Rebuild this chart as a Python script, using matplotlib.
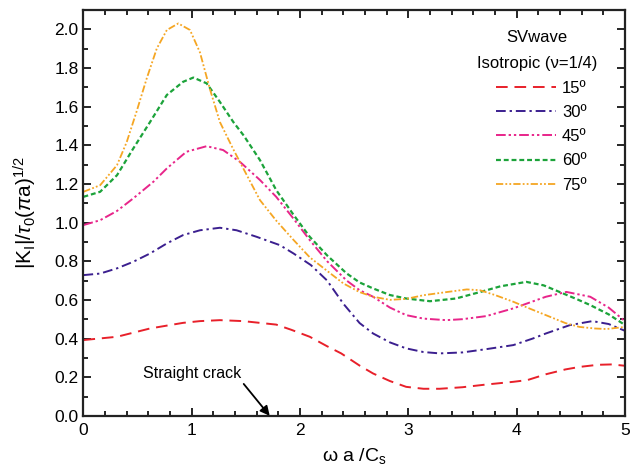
import numpy as np
import matplotlib
matplotlib.use('Agg')
from matplotlib import pyplot as plt
from matplotlib.ticker import MultipleLocator

plt.rcParams['font.family'] = ['Liberation Sans', 'DejaVu Sans']
plt.rcParams['mathtext.fontset'] = 'custom'
plt.rcParams['mathtext.rm'] = 'Liberation Sans'
plt.rcParams['mathtext.it'] = 'Liberation Sans:italic'

# values
x15 = [0.0, 0.31, 0.615, 0.92, 1.076, 1.26, 1.476, 1.78, 1.92, 2.09, 2.25, 2.38, 2.55, 2.675, 2.83, 2.98, 3.14,
       3.29, 3.5, 3.72, 3.97, 4.1, 4.27, 4.45, 4.58, 4.75, 4.88, 5.0]
y15 = [0.392, 0.409, 0.452, 0.481, 0.49, 0.495, 0.49, 0.472, 0.445, 0.409, 0.36, 0.323, 0.26, 0.219, 0.18, 0.15, 0.14,
       0.14, 0.148, 0.162, 0.176, 0.185, 0.215, 0.24, 0.253, 0.264, 0.266, 0.259]

x30 = [0.0, 0.154, 0.31, 0.46, 0.615, 0.77, 0.92, 1.076, 1.26, 1.414, 1.6, 1.814, 1.94, 2.1, 2.25, 2.4, 2.55,
       2.675, 2.83, 2.98, 3.14, 3.29, 3.5, 3.72, 3.97, 4.15, 4.27, 4.49, 4.7, 4.85, 5.0]
y30 = [0.728, 0.736, 0.763, 0.797, 0.84, 0.892, 0.935, 0.96, 0.973, 0.96, 0.926, 0.883, 0.84, 0.78, 0.7, 0.58, 0.48,
       0.426, 0.38, 0.349, 0.33, 0.323, 0.328, 0.345, 0.366, 0.4, 0.426, 0.469, 0.49, 0.475, 0.44]

x45 = [0.0, 0.154, 0.31, 0.46, 0.646, 0.77, 0.95, 1.138, 1.29, 1.445, 1.63, 1.78, 1.94, 2.09, 2.25, 2.43, 2.55,
       2.675, 2.83, 2.98, 3.14, 3.35, 3.5, 3.72, 3.97, 4.27, 4.46, 4.68, 4.85, 5.0]
y45 = [0.987, 1.012, 1.06, 1.125, 1.211, 1.28, 1.366, 1.395, 1.375, 1.314, 1.22, 1.133, 1.02, 0.909, 0.8, 0.7, 0.65,
       0.616, 0.56, 0.521, 0.503, 0.495, 0.5, 0.516, 0.556, 0.616, 0.641, 0.616, 0.56, 0.49]

x60 = [0.0, 0.154, 0.31, 0.46, 0.615, 0.77, 0.92, 1.015, 1.138, 1.26, 1.384, 1.48, 1.63, 1.78, 1.94, 2.09, 2.25,
       2.43, 2.55, 2.675, 2.83, 2.98, 3.2, 3.44, 3.66, 3.85, 4.09, 4.25, 4.4, 4.55, 4.68, 4.85, 5.0]
y60 = [1.133, 1.159, 1.245, 1.383, 1.52, 1.66, 1.728, 1.75, 1.72, 1.624, 1.52, 1.45, 1.323, 1.168, 1.04, 0.926, 0.83,
       0.737, 0.69, 0.659, 0.625, 0.607, 0.593, 0.607, 0.64, 0.67, 0.693, 0.675, 0.64, 0.605, 0.573, 0.525, 0.47]

x75 = [0.0, 0.154, 0.31, 0.4, 0.49, 0.584, 0.677, 0.77, 0.876, 0.984, 1.076, 1.168, 1.26, 1.38, 1.476, 1.63, 1.78,
       1.94, 2.09, 2.25, 2.4, 2.55, 2.675, 2.83, 2.98, 3.14, 3.35, 3.54, 3.66, 3.8, 3.97, 4.12, 4.27, 4.45, 4.58,
       4.72, 4.83, 5.0]
y75 = [1.159, 1.193, 1.297, 1.417, 1.573, 1.745, 1.9, 1.996, 2.03, 1.996, 1.88, 1.69, 1.52, 1.383, 1.28, 1.116, 1.01,
       0.91, 0.82, 0.75, 0.685, 0.64, 0.616, 0.6, 0.605, 0.624, 0.64, 0.654, 0.65, 0.625, 0.59, 0.555, 0.521, 0.48, 0.46,
       0.452, 0.449, 0.46]

labels = ['15º', '30º', '45º', '60º', '75º']

fig = plt.figure(figsize=(6.37, 4.72), dpi=100)
ax = fig.add_axes([0.131, 0.119, 0.850, 0.860])

ax.plot(x15, y15, color='#e8202a', lw=1.4, dashes=(6, 3.5), label=labels[0])
ax.plot(x30, y30, color='#3b1f8f', lw=1.4, dashes=(5, 2, 1.2, 2), label=labels[1])
ax.plot(x45, y45, color='#e8258a', lw=1.4, dashes=(5, 1.5, 1.2, 1.5, 1.2, 1.5), label=labels[2])
ax.plot(x60, y60, color='#1ca33a', lw=1.6, dashes=(2.2, 1.3), label=labels[3])
ax.plot(x75, y75, color='#f5a623', lw=1.3, dashes=(4, 1.2, 1, 1.2, 1, 1.2), label=labels[4])

ax.set_xlim(0, 5)
ax.set_ylim(0, 2.1)
ax.xaxis.set_major_locator(MultipleLocator(1))
ax.xaxis.set_minor_locator(MultipleLocator(0.2))
ax.yaxis.set_minor_locator(MultipleLocator(0.1))
ax.set_yticks(np.arange(0, 2.01, 0.2))
ax.set_yticklabels([f'{v:.1f}' for v in np.arange(0, 2.01, 0.2)])
ax.tick_params(which='both', direction='in', top=True, right=True, labelsize=12.5, width=1.2)
ax.tick_params(which='major', length=6)
ax.tick_params(which='minor', length=3.5)
ax.tick_params(axis='x', pad=5)
for s in ax.spines.values():
    s.set_linewidth(1.6)
    s.set_color('#222222')

ax.set_xlabel('ω a /C$_{\\rm s}$', fontsize=14, labelpad=6)
ax.set_ylabel('|K$_{\\rm I}$|/$\\tau_0$($\\pi$a)$^{1/2}$', fontsize=15)
ax.yaxis.set_label_coords(-0.083, 0.5)

ax.text(1.0, 0.22, 'Straight crack', fontsize=11.5, ha='center', va='center')
ax.annotate('', xy=(1.72, 0.0), xytext=(1.48, 0.165),
            arrowprops=dict(arrowstyle='-|>', color='black', lw=1.3, mutation_scale=14,
                            shrinkA=0, shrinkB=0))

ax.text(0.838, 0.931, 'SVwave', transform=ax.transAxes, fontsize=12, ha='center', va='center')
ax.text(0.838, 0.869, 'Isotropic (ν=1/4)', transform=ax.transAxes, fontsize=12, ha='center', va='center')
ax.legend(loc='upper left', frameon=False, fontsize=12, bbox_to_anchor=(0.762, 0.825),
          borderaxespad=0, borderpad=0, handlelength=3.6, handletextpad=0.35, labelspacing=0.55)

fig.savefig('out.png', dpi=100)
